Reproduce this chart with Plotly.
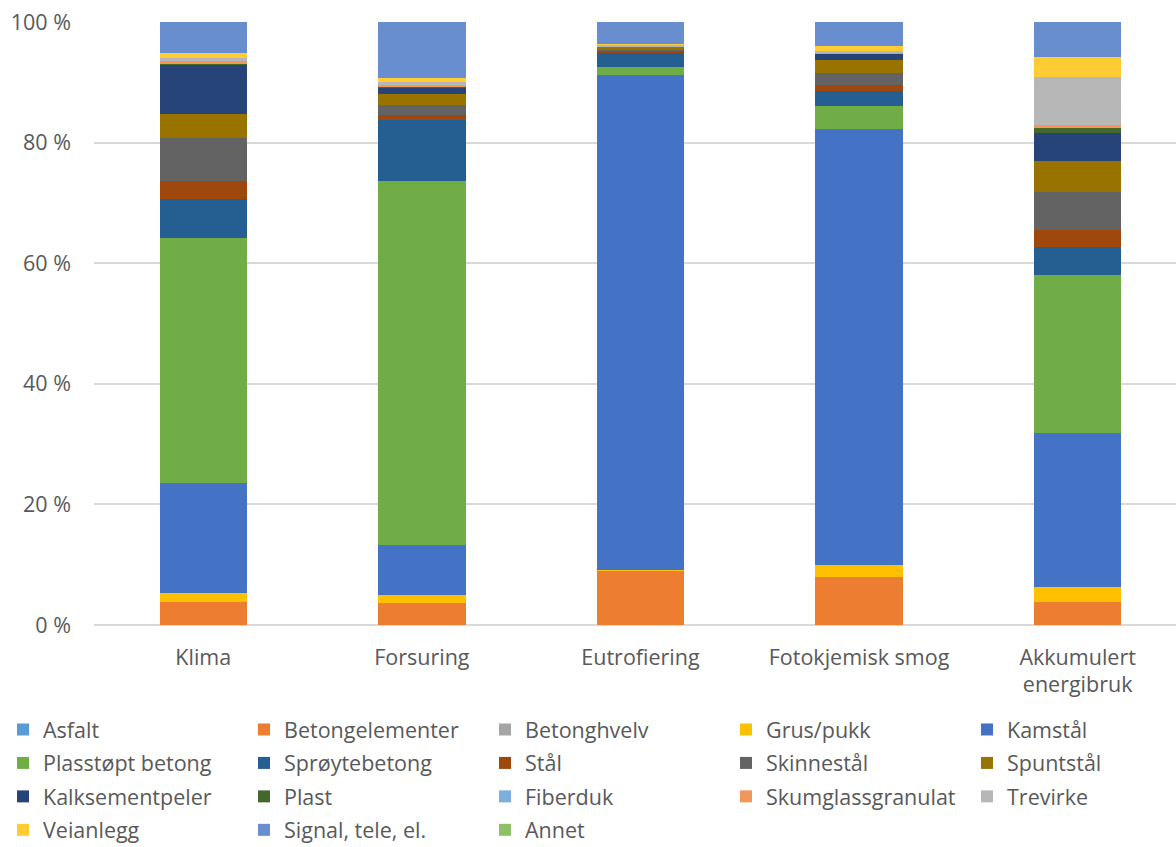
import plotly.graph_objects as go

categories = ["Klima", "Forsuring", "Eutrofiering", "Fotokjemisk smog", "Akkumulert<br>energibruk"]

series_names = ["Asfalt", "Betongelementer", "Betonghvelv", "Grus/pukk", "Kamstål",
                "Plasstøpt betong", "Sprøytebetong", "Stål", "Skinnestål", "Spuntstål",
                "Kalksementpeler", "Plast", "Fiberduk", "Skumglassgranulat", "Trevirke",
                "Veianlegg", "Signal, tele, el.", "Annet"]

asfalt = [0.0, 0.0, 0.0, 0.0, 0.0]
betongelementer = [3.8, 3.6, 9.0, 8.0, 3.8]
betonghvelv = [0.0, 0.0, 0.0, 0.0, 0.0]
grus_pukk = [1.5, 1.3, 0.2, 2.0, 2.5]
kamstal = [18.3, 8.3, 82.2, 72.2, 25.5]
plasstopt_betong = [40.6, 60.5, 1.3, 3.8, 26.2]
sproytebetong = [6.5, 10.0, 2.5, 2.5, 4.6]
stal = [3.0, 0.8, 0.2, 1.0, 2.8]
skinnestal = [7.0, 1.8, 0.1, 2.0, 6.3]
spuntstal = [4.0, 1.7, 0.6, 2.2, 5.1]
kalksementpeler = [8.3, 1.2, 0.1, 1.0, 4.6]
plast = [0.1, 0.1, 0.0, 0.1, 0.8]
fiberduk = [0.0, 0.0, 0.0, 0.0, 0.0]
skumglassgranulat = [0.5, 0.2, 0.0, 0.1, 0.5]
trevirke = [0.5, 0.5, 0.3, 0.3, 8.0]
veianlegg = [0.8, 0.7, 0.1, 0.8, 3.3]
signal_tele_el = [5.1, 9.3, 3.6, 4.0, 5.8]
annet = [0.0, 0.0, 0.0, 0.0, 0.0]

series_values = [asfalt, betongelementer, betonghvelv, grus_pukk, kamstal,
                 plasstopt_betong, sproytebetong, stal, skinnestal, spuntstal,
                 kalksementpeler, plast, fiberduk, skumglassgranulat, trevirke,
                 veianlegg, signal_tele_el, annet]

colors = ["#5B9BD5", "#ED7D31", "#A5A5A5", "#FFC000", "#4472C4",
          "#70AD47", "#255E91", "#9E480E", "#636363", "#997300",
          "#264478", "#43682B", "#7CAFDD", "#F1975A", "#B7B7B7",
          "#FFCD33", "#698ED0", "#8CC168"]

tick_vals = [0, 20, 40, 60, 80, 100]
tick_text = ["0 %", "20 %", "40 %", "60 %", "80 %", "100 %"]

FONT = "Open Sans, Noto Sans, sans-serif"
TXT = "#595959"
FS = 21.5

fig = go.Figure()
legend_ids = ["legend", "legend2", "legend3", "legend4", "legend5"]
for i, (name, vals, col) in enumerate(zip(series_names, series_values, colors)):
    fig.add_trace(go.Bar(
        x=categories, y=vals, name=name,
        marker=dict(color=col, line=dict(width=0)),
        width=0.4,
        legend=legend_ids[i % 5],
        legendgroup="g%d" % i,
    ))

W, H = 1176, 847
ml, mr, mt, mb = 94, 0, 22, 222
pw = W - ml - mr
ph = H - mt - mb

def px_to_x(px):
    return (px - ml) / pw

def py_to_y(py):
    return (H - mb - py) / ph

leg_common = dict(
    orientation="v", traceorder="grouped", tracegroupgap=2.5,
    font=dict(family=FONT, size=FS, color=TXT),
    bgcolor="rgba(0,0,0,0)", xanchor="left", yanchor="top",
    itemclick=False, itemdoubleclick=False,
)
col_px = [3, 244, 485, 726, 967]
legend_layouts = {}
for lid, cx in zip(legend_ids, col_px):
    d = dict(leg_common)
    d["x"] = px_to_x(cx)
    d["y"] = py_to_y(709)
    legend_layouts[lid] = d

fig.update_layout(
    width=W, height=H,
    margin=dict(l=ml, r=mr, t=mt, b=mb, autoexpand=False),
    barmode="stack", barnorm="percent",
    plot_bgcolor="white", paper_bgcolor="white",
    font=dict(family=FONT, size=FS, color=TXT),
    xaxis=dict(range=[-0.5, 4.45], showgrid=False, showline=False, zeroline=False,
               tickfont=dict(family=FONT, size=FS, color=TXT), ticks="",
               ticklabelstandoff=17, fixedrange=True),
    yaxis=dict(range=[0, 100], tickvals=tick_vals, ticktext=tick_text,
               showgrid=True, gridcolor="#D9D9D9", gridwidth=1.5,
               zeroline=True, zerolinecolor="#D9D9D9", zerolinewidth=1.5,
               showline=False, ticks="",
               tickfont=dict(family=FONT, size=FS, color=TXT),
               ticklabelstandoff=22, fixedrange=True),
    **legend_layouts,
)

fig.write_html("out.html")
